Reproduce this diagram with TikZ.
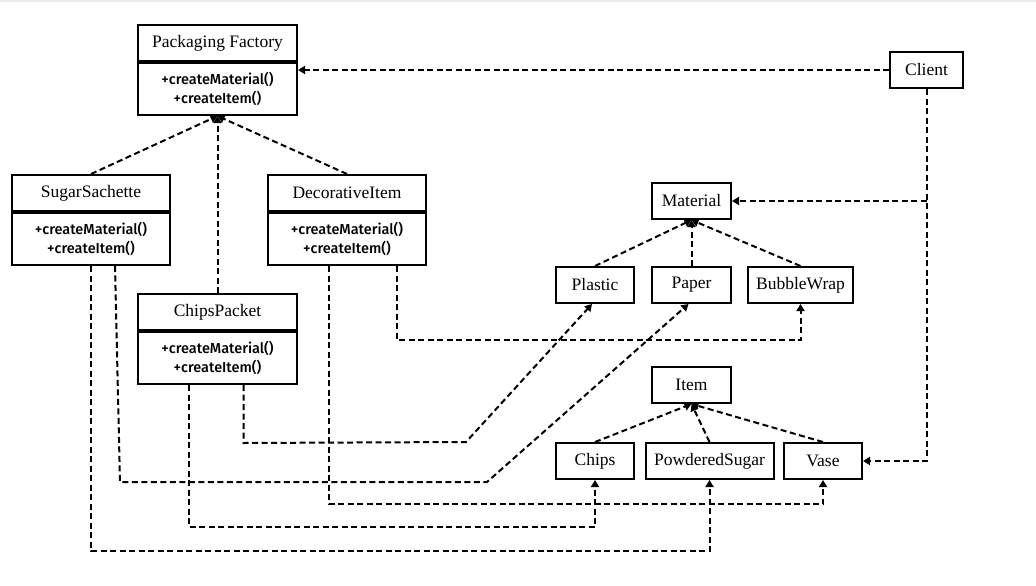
\documentclass[tikz,border=0pt]{standalone}
\usepackage{fontspec}
\setmainfont{Liberation Serif}
\newfontfamily\methodfont{Fira Sans Medium}
\usepackage{tikz}
\usetikzlibrary{arrows.meta}
\usetikzlibrary{positioning}
\usetikzlibrary{calc}

\begin{document}
\begin{tikzpicture}[x=1pt, y=-1pt,
    cls/.style={draw, line width=2pt, minimum height=36pt, inner sep=0pt, font=\fontsize{17.5}{20}\selectfont},
    ops/.style={draw, line width=2pt, minimum width=159pt, minimum height=52pt, inner sep=0pt, align=center, font=\methodfont\fontsize{14.5}{19}\selectfont},
    dep/.style={line width=2pt, dash pattern=on 6pt off 3.5pt, -{Triangle[length=7pt,width=8pt]}}]
    \useasboundingbox (0,0) rectangle (1036,586);
    \fill[black!8] (0,0) rectangle (1036,2.5);

    \node[cls, minimum width=159pt] (pf) at (217.5,43) {Packaging Factory};
    \node[ops, below=0pt of pf] (pfm) {+createMaterial()\\+createItem()};
    \node[cls, minimum width=158pt] (ss) at (91,193) {SugarSachette};
    \node[ops, minimum width=158pt, below=0pt of ss] (ssm) {+createMaterial()\\+createItem()};
    \node[cls, minimum width=158pt] (di) at (347,193) {DecorativeItem};
    \node[ops, minimum width=158pt, below=0pt of di] (dim) {+createMaterial()\\+createItem()};
    \node[cls, minimum width=159pt] (cp) at (217.5,312) {ChipsPacket};
    \node[ops, below=0pt of cp] (cpm) {+createMaterial()\\+createItem()};

    \node[cls, minimum width=73pt] (client) at (926.5,70) {Client};
    \node[cls, minimum width=79pt] (material) at (691.5,201) {Material};
    \node[cls, minimum width=78pt] (plastic) at (595,285) {Plastic};
    \node[cls, minimum width=79pt] (paper) at (691.5,285) {Paper};
    \node[cls, minimum width=105pt] (bubble) at (800.5,285) {BubbleWrap};
    \node[cls, minimum width=79pt] (item) at (691.5,385) {Item};
    \node[cls, minimum width=78pt] (chips) at (595,461) {Chips};
    \node[cls, minimum width=128pt] (powder) at (709.5,461) {PowderedSugar};
    \node[cls, minimum width=78pt] (vase) at (823,461) {Vase};

    \draw[dep] (ss.north) -- (pfm.south);
    \draw[dep] (di.north) -- (pfm.south);
    \draw[dep] (cp.north) -- (pfm.south);

    \draw[dep] (client.west) -- (client.west -| pfm.east);
    \draw[dep] (client.south) |- (vase.east);
    \draw[dep] (client.south |- material.east) -- (material.east);

    \draw[dep] (plastic.north) -- (material.south);
    \draw[dep] (paper.north) -- (material.south);
    \draw[dep] (bubble.north) -- (material.south);
    \draw[dep] (chips.north) -- (item.south);
    \draw[dep] (powder.north) -- (item.south);
    \draw[dep] (vase.north) -- (item.south);

    \draw[dep] (ssm.south) -- ++(0,285) -| (powder.south);
    \draw[dep] ($(ssm.south)+(24,0)$) -- (120,482) -- (487,482) -- ($(paper.south)+(-3,0)$);
    \draw[dep] ($(cpm.south)+(-28.5,0)$) -- ++(0,142) -| (chips.south);
    \draw[dep] ($(cpm.south)+(26,0)$) -- ++(0,58) -- (466,442) -- ($(plastic.south)+(-3,0)$);
    \draw[dep] ($(dim.south)+(-18,0)$) -- ++(0,238) -| (vase.south);
    \draw[dep] ($(dim.south)+(50,0)$) -- ++(0,74) -| (bubble.south);
\end{tikzpicture}
\end{document}
